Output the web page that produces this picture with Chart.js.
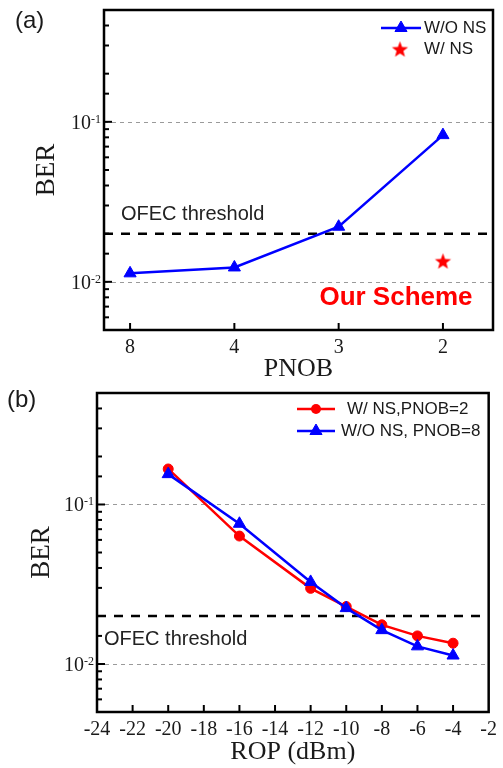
<!DOCTYPE html>
<html><head><meta charset="utf-8">
<script src="https://cdn.jsdelivr.net/npm/chart.js@4.4.1/dist/chart.umd.min.js"></script>
<style>
html,body{margin:0;padding:0;background:#fff;}
#wrap{position:relative;width:503px;height:768px;overflow:hidden;}
#ca{position:absolute;left:0;top:0;}
#cb{position:absolute;left:0;top:385px;}
</style></head><body>
<div id="wrap"><canvas id="ca" width="503" height="385"></canvas><canvas id="cb" width="503" height="383"></canvas></div>
<script>
// ---------- data ----------
const pnobCategories = ['8', '4', '3', '2'];
const berWithoutNS_a = [0.0113, 0.0123, 0.0221, 0.0826];
const berWithNS_a_category = '2';
const berWithNS_a = [0.0135];
const ropValues = [-20, -16, -12, -10, -8, -6, -4];
const berWithNS_b = [0.167, 0.0634, 0.0298, 0.0229, 0.0176, 0.0150, 0.0135];
const berWithoutNS_b = [0.155, 0.0757, 0.0327, 0.0224, 0.0163, 0.0129, 0.0113];
const ropTicks = [-24, -22, -20, -18, -16, -14, -12, -10, -8, -6, -4, -2];
const berMajorTicks = [0.1, 0.01];
const ofecThreshold = 0.02;

// ---------- styles ----------
const BLUE = '#0000ff', RED = '#ff0000', INK = '#1a1a1a';
const SERIF = '"Liberation Serif", "Times New Roman", serif';
const SANS = '"Liberation Sans", Arial, sans-serif';

function makeStar(r, color) {
  const c = document.createElement('canvas');
  const s = Math.ceil(2 * r + 2);
  c.width = s; c.height = s;
  const g = c.getContext('2d');
  g.fillStyle = color;
  g.beginPath();
  for (let k = 0; k < 10; k++) {
    const rad = k % 2 === 0 ? r : r * 0.42;
    const a = -Math.PI / 2 + k * Math.PI / 5;
    const x = s / 2 + rad * Math.cos(a), y = s / 2 + rad * Math.sin(a) + r * 0.1;
    if (k) g.lineTo(x, y); else g.moveTo(x, y);
  }
  g.closePath(); g.fill();
  return c;
}
const starImg = makeStar(8.5, RED);

function isDecade(v) { const l = Math.log10(v); return Math.abs(l - Math.round(l)) < 1e-6; }

function drawMarker(ctx, kind, x, y, color) {
  ctx.save();
  ctx.fillStyle = color; ctx.strokeStyle = color; ctx.lineWidth = 1;
  if (kind === 'triangle') {
    const r = 7; let rad = 0;
    ctx.beginPath();
    ctx.moveTo(x + Math.sin(rad) * r, y - Math.cos(rad) * r);
    rad += 2 * Math.PI / 3; ctx.lineTo(x + Math.sin(rad) * r, y - Math.cos(rad) * r);
    rad += 2 * Math.PI / 3; ctx.lineTo(x + Math.sin(rad) * r, y - Math.cos(rad) * r);
    ctx.closePath(); ctx.fill(); ctx.stroke();
  } else if (kind === 'circle') {
    ctx.beginPath(); ctx.arc(x, y, 5, 0, Math.PI * 2); ctx.fill();
  } else if (kind === 'star') {
    ctx.drawImage(starImg, x - starImg.width / 2, y - starImg.height / 2);
  }
  ctx.restore();
}

function decoPlugin(cfg) {
  return {
    id: 'deco',
    beforeDatasetsDraw(chart) {
      const { ctx, chartArea: a, scales: { y } } = chart;
      ctx.save();
      ctx.strokeStyle = '#9a9a9a'; ctx.lineWidth = 1; ctx.setLineDash([4, 4]);
      berMajorTicks.forEach(v => {
        const py = Math.round(y.getPixelForValue(v)) + 0.5;
        ctx.beginPath(); ctx.moveTo(a.left, py); ctx.lineTo(a.right, py); ctx.stroke();
      });
      ctx.strokeStyle = '#000'; ctx.lineWidth = 2.5; ctx.setLineDash([9, 8]);
      const ty = y.getPixelForValue(ofecThreshold);
      ctx.beginPath(); ctx.moveTo(a.left, ty); ctx.lineTo(a.right, ty); ctx.stroke();
      ctx.setLineDash([]);
      ctx.font = '20px ' + SANS; ctx.fillStyle = '#222';
      ctx.textAlign = 'left'; ctx.textBaseline = 'middle';
      ctx.fillText('OFEC threshold', a.left + cfg.thrDx, ty + cfg.thrDy);
      ctx.restore();
    },
    afterDraw(chart) {
      const { ctx, chartArea: a, scales: { x, y } } = chart;
      ctx.save();
      // frame
      ctx.strokeStyle = '#000'; ctx.lineWidth = 2.5;
      ctx.strokeRect(a.left, a.top, a.right - a.left, a.bottom - a.top);
      // inward y ticks
      ctx.lineWidth = 2;
      y.ticks.forEach(t => {
        const py = y.getPixelForValue(t.value);
        if (py < a.top + 2 || py > a.bottom - 2) return;
        const len = isDecade(t.value) ? 8 : 5;
        ctx.beginPath(); ctx.moveTo(a.left, py); ctx.lineTo(a.left + len, py); ctx.stroke();
      });
      // inward x ticks
      x.ticks.forEach(t => {
        const px = x.getPixelForValue(t.value);
        if (px < a.left + 2 || px > a.right - 2) return;
        ctx.beginPath(); ctx.moveTo(px, a.bottom); ctx.lineTo(px, a.bottom - 7); ctx.stroke();
      });
      // y labels 10^n
      ctx.fillStyle = INK; ctx.textBaseline = 'alphabetic';
      berMajorTicks.forEach(v => {
        const py = y.getPixelForValue(v);
        const exp = String(Math.round(Math.log10(v)));
        ctx.font = '12px ' + SERIF; ctx.textAlign = 'right';
        const ew = ctx.measureText(exp).width;
        const xr = a.left - 3;
        ctx.fillText(exp, xr, py + 1);
        ctx.font = '20px ' + SERIF;
        ctx.fillText('10', xr - ew, py + 7);
      });
      // panel letter
      ctx.font = '24px ' + SANS; ctx.textAlign = 'left'; ctx.textBaseline = 'middle'; ctx.fillStyle = INK;
      ctx.fillText(cfg.panel, cfg.panelX, cfg.panelY);
      // legend
      ctx.font = '17px ' + SANS;
      cfg.legend.forEach(it => {
        if (it.line) {
          ctx.strokeStyle = it.color; ctx.lineWidth = 2.5;
          ctx.beginPath(); ctx.moveTo(it.x0, it.y); ctx.lineTo(it.x1, it.y); ctx.stroke();
        }
        drawMarker(ctx, it.marker, (it.x0 + it.x1) / 2, it.y, it.color);
        ctx.fillStyle = INK; ctx.textAlign = 'left'; ctx.textBaseline = 'middle';
        ctx.fillText(it.text, it.tx, it.y);
      });
      // extra annotation
      if (cfg.extra) {
        ctx.font = 'bold 26px ' + SANS; ctx.fillStyle = RED; ctx.textAlign = 'center'; ctx.textBaseline = 'middle';
        ctx.fillText(cfg.extra.text, cfg.extra.x, cfg.extra.y);
      }
      ctx.restore();
    }
  };
}

function yScale(width, titlePad) {
  return {
    type: 'logarithmic', min: 0.005, max: 0.5,
    grid: { display: false, drawTicks: false }, border: { display: false },
    ticks: { display: false, autoSkip: false },
    title: { display: true, text: 'BER', color: INK, font: { family: SERIF, size: 27 }, padding: { top: titlePad, bottom: 0 } },
    afterFit: s => { s.width = width; }
  };
}

// ---------- chart (a) ----------
new Chart(document.getElementById('ca'), {
  type: 'line',
  data: {
    datasets: [
      { label: 'W/O NS', data: berWithoutNS_a.map((v, i) => ({ x: i, y: v })),
        borderColor: BLUE, backgroundColor: BLUE, borderWidth: 2.5, pointStyle: 'triangle',
        pointRadius: 7, pointBorderWidth: 1, tension: 0 },
      { label: 'W/ NS', data: berWithNS_a.map(v => ({ x: pnobCategories.indexOf(berWithNS_a_category), y: v })),
        showLine: false, pointStyle: starImg, pointRadius: 9, borderColor: RED, backgroundColor: RED }
    ]
  },
  options: {
    responsive: false, animation: false, devicePixelRatio: 1,
    layout: { padding: { top: 8, right: 5, left: 0, bottom: 0 } },
    plugins: { legend: { display: false }, tooltip: { enabled: false } },
    scales: {
      x: {
        type: 'linear', min: -0.25, max: 3.48,
        grid: { display: false, drawTicks: false }, border: { display: false },
        afterBuildTicks: s => { s.ticks = pnobCategories.map((c, i) => ({ value: i })); },
        ticks: { autoSkip: false, maxRotation: 0, padding: 6, color: INK, font: { family: SERIF, size: 20 },
                 callback: v => pnobCategories[v] !== undefined ? pnobCategories[v] : '' },
        title: { display: true, text: 'PNOB', color: INK, font: { family: SERIF, size: 26 }, padding: { top: 0, bottom: 0 } },
        afterFit: s => { s.height = 55; }
      },
      y: yScale(104, 31)
    }
  },
  plugins: [decoPlugin({
    panel: '(a)', panelX: 15, panelY: 21, thrDx: 17, thrDy: -19,
    legend: [
      { line: true, marker: 'triangle', color: BLUE, x0: 381, x1: 421, y: 28, text: 'W/O NS', tx: 424 },
      { line: false, marker: 'star', color: RED, x0: 400, x1: 400, y: 49, text: 'W/ NS', tx: 424 }
    ],
    extra: { text: 'Our Scheme', x: 396, y: 298 }
  })]
});

// ---------- chart (b) ----------
new Chart(document.getElementById('cb'), {
  type: 'line',
  data: {
    datasets: [
      { label: 'W/ NS,PNOB=2', data: ropValues.map((r, i) => ({ x: r, y: berWithNS_b[i] })), order: 1,
        borderColor: RED, backgroundColor: RED, borderWidth: 2.5, pointStyle: 'circle',
        pointRadius: 5, pointBorderWidth: 1, tension: 0 },
      { label: 'W/O NS, PNOB=8', data: ropValues.map((r, i) => ({ x: r, y: berWithoutNS_b[i] })), order: 0,
        borderColor: BLUE, backgroundColor: BLUE, borderWidth: 2.5, pointStyle: 'triangle',
        pointRadius: 7, pointBorderWidth: 1, tension: 0 }
    ]
  },
  options: {
    responsive: false, animation: false, devicePixelRatio: 1,
    layout: { padding: { top: 8, right: 10, left: 0, bottom: 0 } },
    plugins: { legend: { display: false }, tooltip: { enabled: false } },
    scales: {
      x: {
        type: 'linear', min: ropTicks[0], max: ropTicks[ropTicks.length - 1],
        grid: { display: false, drawTicks: false }, border: { display: false },
        afterBuildTicks: s => { s.ticks = ropTicks.map(v => ({ value: v })); },
        ticks: { autoSkip: false, maxRotation: 0, padding: 6, color: INK, font: { family: SERIF, size: 20 },
                 callback: v => String(v) },
        title: { display: true, text: 'ROP (dBm)', color: INK, font: { family: SERIF, size: 26 }, padding: { top: 0, bottom: 0 } },
        afterFit: s => { s.height = 56; }
      },
      y: yScale(97, 26)
    }
  },
  plugins: [decoPlugin({
    panel: '(b)', panelX: 7, panelY: 15, thrDx: 7, thrDy: 24,
    legend: [
      { line: true, marker: 'circle', color: RED, x0: 297, x1: 335, y: 24, text: 'W/ NS,PNOB=2', tx: 347 },
      { line: true, marker: 'triangle', color: BLUE, x0: 297, x1: 335, y: 46, text: 'W/O NS, PNOB=8', tx: 341 }
    ]
  })]
});
</script>
</body></html>
